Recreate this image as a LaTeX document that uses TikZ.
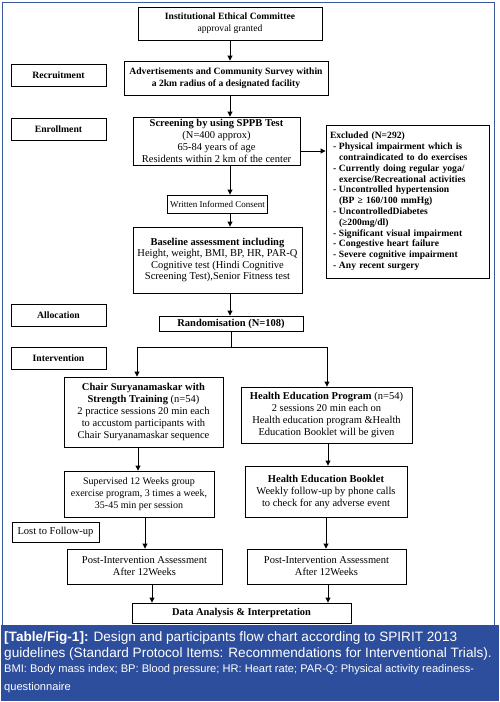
\documentclass[tikz,border=0pt]{standalone}
\usepackage{fontspec}
\setmainfont{Liberation Serif}
\newfontfamily\capfont{Liberation Sans}
\usetikzlibrary{arrows.meta}
\definecolor{bandcol}{HTML}{2D4E9C}
\definecolor{framecol}{HTML}{3B5998}
\tikzset{
  box/.style={draw, line width=0.9pt, inner sep=1pt, align=center, font=\fontsize{10.5}{12}\selectfont},
  lbl/.style={box, minimum width=95pt, minimum height=22pt, font=\fontsize{9.7}{11}\selectfont\bfseries},
  arr/.style={-{Triangle[length=5pt,width=5pt]}, line width=0.9pt},
  ln/.style={line width=0.9pt}
}
\begin{document}
\begin{tikzpicture}[x=1pt,y=-1pt]
\useasboundingbox (0,0) rectangle (499,702);
\fill[white] (0,0) rectangle (499,702);
\draw[framecol, line width=1pt] (2.5,2.5) rectangle (494,626);
\fill[bandcol] (1,625) rectangle (499,701);

% main column
\node[box, minimum width=184pt, minimum height=33pt, font=\fontsize{9.6}{12}\selectfont] (ethic) at (230,23.5)
  {\textbf{Institutional Ethical Committee}\\approval granted};
\node[box, minimum width=204pt, minimum height=34pt, font=\fontsize{9.6}{11.5}\selectfont\bfseries] (advert) at (226,78)
  {Advertisements and Community Survey within\\a 2km radius of a designated facility};
\node[box, minimum width=167pt, minimum height=48pt, font=\fontsize{10.5}{12}\selectfont] (screen) at (216.5,141)
  {\textbf{Screening by using SPPB Test}\\(N=400 approx)\\65-84 years of age\\Residents within 2 km of the center};
\node[box, minimum width=100pt, minimum height=18pt, font=\fontsize{9}{10}\selectfont] (consent) at (217.5,204)
  {Written Informed Consent};
\node[box, minimum width=169pt, minimum height=66pt, font=\fontsize{10.5}{11.5}\selectfont] (base) at (217.5,260)
  {\textbf{Baseline assessment including}\\Height, weight, BMI, BP, HR, PAR-Q\\Cognitive test (Hindi Cognitive\\Screening Test),Senior Fitness test};
\node[box, minimum width=144pt, minimum height=15pt, font=\fontsize{10.5}{12}\selectfont\bfseries] (rand) at (231,323.5)
  {Randomisation (N=108)};

% excluded
\node[box, align=left, text width=155pt, minimum height=153pt, inner xsep=4pt, font=\fontsize{9.6}{10.8}\selectfont\bfseries] (excl) at (407.5,201.5)
  {Excluded (N=292)\\
   \hspace*{3pt}\makebox[6pt][l]{-}Physical impairment which is\\
   \hspace*{9pt}contraindicated to do exercises\\
   \hspace*{3pt}\makebox[6pt][l]{-}Currently doing regular yoga/\\
   \hspace*{9pt}exercise/Recreational activities\\
   \hspace*{3pt}\makebox[6pt][l]{-}Uncontrolled hypertension\\
   \hspace*{9pt}(BP ≥ 160/100 mmHg)\\
   \hspace*{3pt}\makebox[6pt][l]{-}UncontrolledDiabetes\\
   \hspace*{9pt}(≥200mg/dl)\\
   \hspace*{3pt}\makebox[6pt][l]{-}Significant visual impairment\\
   \hspace*{3pt}\makebox[6pt][l]{-}Congestive heart failure\\
   \hspace*{3pt}\makebox[6pt][l]{-}Severe cognitive impairment\\
   \hspace*{3pt}\makebox[6pt][l]{-}Any recent surgery};

% stage labels
\node[lbl] (recruit) at (58.5,75.5) {Recruitment};
\node[lbl] (enroll) at (58.5,129.5) {Enrollment};
\node[lbl] (alloc) at (58.5,315) {Allocation};
\node[lbl] (interv) at (58.5,358.5) {Intervention};
\node[box, minimum width=87pt, minimum height=20pt] (lost) at (55.5,532) {Lost to Follow-up};

% arms
\node[box, minimum width=159pt, minimum height=70pt] (chair) at (143.5,412)
  {\textbf{Chair Suryanamaskar with}\\\textbf{Strength Training} (n=54)\\2 practice sessions 20 min each\\to accustom participants with\\Chair Suryanamaskar sequence};
\node[box, minimum width=171pt, minimum height=56pt] (hep) at (326.5,415)
  {\textbf{Health Education Program} (n=54)\\2 sessions 20 min each on\\Health education program \&Health\\Education Booklet will be given};
\node[box, minimum width=150pt, minimum height=46pt, font=\fontsize{10}{12}\selectfont] (superv) at (139,494)
  {Supervised 12 Weeks group\\exercise program, 3 times a week,\\35-45 min per session};
\node[box, minimum width=162pt, minimum height=51pt] (booklet) at (326,491.5)
  {\textbf{Health Education Booklet}\\Weekly follow-up by phone calls\\to check for any adverse event};
\node[box, minimum width=155pt, minimum height=35pt] (postL) at (144.5,566.5)
  {Post-Intervention Assessment\\After 12Weeks};
\node[box, minimum width=159pt, minimum height=35pt] (postR) at (326.5,566.5)
  {Post-Intervention Assessment\\After 12Weeks};
\node[box, minimum width=219pt, minimum height=20pt, font=\fontsize{10.4}{12}\selectfont\bfseries] (data) at (241.5,613)
  {Data Analysis \& Interpretation};

% connectors main column
\draw[arr] (ethic.south) -- (ethic.south |- advert.north);
\draw[arr] (ethic.south |- advert.south) -- (ethic.south |- screen.north);
\draw[arr] (ethic.south |- screen.south) -- (ethic.south |- consent.north);
\draw[arr] (ethic.south |- consent.south) -- (ethic.south |- base.north);
\draw[arr] (ethic.south |- base.south) -- (ethic.south |- rand.north);
\coordinate (ey) at (0,151);
\draw[arr] (screen.east |- ey) -- (excl.west |- ey);

% split
\coordinate (lt) at (137,347);
\coordinate (rt) at (327,347);
\draw[ln] (rand.south) -- (rand.south |- lt);
\draw[ln] (lt) -- (rt);
\draw[arr] (lt) -- (lt |- chair.north);
\draw[arr] (rt) -- (rt |- hep.north);

% left arm
\coordinate (c1) at (138,0);
\coordinate (c2) at (145,0);
\coordinate (c3) at (152,0);
\draw[arr] (c1 |- chair.south) -- (c1 |- superv.north);
\draw[arr] (c2 |- superv.south) -- (c2 |- postL.north);
\draw[arr] (c3 |- postL.south) -- (c3 |- data.north);
% right arm
\coordinate (d1) at (328,0);
\coordinate (d2) at (326,0);
\draw[arr] (d1 |- hep.south) -- (d1 |- booklet.north);
\draw[arr] (d2 |- booklet.south) -- (d2 |- postR.north);
\draw[arr] (d1 |- postR.south) -- (d1 |- data.north);

% caption
\node[anchor=north west, inner sep=0pt, align=left, text=white, font=\capfont\fontsize{13.6}{16}\selectfont] (cap) at (4,631)
  {\textbf{[Table/Fig-1]:} Design and participants flow chart according to SPIRIT 2013\\guidelines (Standard Protocol Items: Recommendations for Interventional Trials).};
\node[anchor=north west, inner sep=0pt, align=left, text=white, font=\capfont\fontsize{11.1}{18}\selectfont] (abbr) at (4,664.5)
  {BMI: Body mass index; BP: Blood pressure; HR: Heart rate; PAR-Q: Physical activity readiness-\\questionnaire};
\end{tikzpicture}
\end{document}
